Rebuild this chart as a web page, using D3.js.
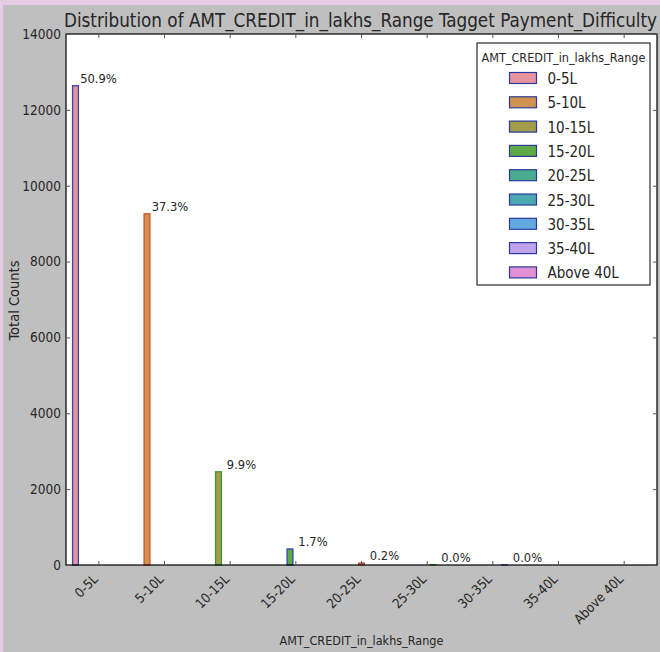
<!DOCTYPE html>
<html>
<head>
<meta charset="utf-8">
<script src="https://cdn.jsdelivr.net/npm/d3@7"></script>
<style>
  html, body { margin: 0; padding: 0; background: #e6cbe6; }
  svg { display: block; }
  text { font-family: "DejaVu Sans Condensed", "DejaVu Sans", sans-serif; font-stretch: condensed; fill: #262626; }
</style>
</head>
<body>
<svg id="chart" width="660" height="652"></svg>
<script>
// Credit-amount buckets (in lakhs) and the number of applicants in each
const categories = ["0-5L", "5-10L", "10-15L", "15-20L", "20-25L", "25-30L", "30-35L", "35-40L", "Above 40L"];
const counts = [12637, 9262, 2458, 422, 52, 8, 2, 0, 0];
const fillColors = ["#e8949f", "#d0924f", "#a39c4a", "#5ca946", "#4aab8e", "#4aa8b2", "#64a8e2", "#c0a2ee", "#e490d6"];
const edgeColors = ["#3347a8", "#d2502c", "#3b9a2f"];
const yTicks = [0, 2000, 4000, 6000, 8000, 10000, 12000, 14000];

const svg = d3.select("#chart");
const W = 660, H = 652;
const margin = { left: 66, right: 3, top: 34, bottom: 87 };
const plotW = W - margin.left - margin.right;
const plotH = H - margin.top - margin.bottom;

// grey figure panel
svg.append("rect").attr("x", 3).attr("y", 5).attr("width", W - 3).attr("height", H - 5).attr("fill", "#bfbfbf");

const g = svg.append("g").attr("transform", `translate(${margin.left},${margin.top})`);

const x = d3.scaleBand().domain(categories).range([0, plotW]).padding(0);
// each bucket holds one slot per hue level (seaborn-style dodge)
const xHue = d3.scaleBand().domain(categories)
  .range([x.bandwidth() * 0.1, x.bandwidth() * 0.9]).padding(0);
const y = d3.scaleLinear().domain([0, 14000]).range([plotH, 0]);

g.append("rect").attr("width", plotW).attr("height", plotH).attr("fill", "#ffffff");

const total = d3.sum(counts);

// bars
g.selectAll("rect.bar").data(categories).enter().append("rect")
  .attr("class", "bar")
  .attr("x", (d) => x(d) + xHue(d))
  .attr("y", (d, i) => y(counts[i]))
  .attr("width", xHue.bandwidth())
  .attr("height", (d, i) => plotH - y(counts[i]))
  .attr("fill", (d, i) => fillColors[i])
  .attr("stroke", (d, i) => edgeColors[i % 3])
  .attr("stroke-width", 1.3)
  .style("display", (d, i) => counts[i] > 0 ? null : "none");

// percentage annotations
g.selectAll("text.pct").data(categories).enter().append("text")
  .attr("class", "pct")
  .filter((d, i) => counts[i] > 0)
  .attr("x", (d) => x(d) + xHue(d) + xHue.bandwidth() / 2 + x.bandwidth() * 0.35)
  .attr("y", (d) => y(counts[categories.indexOf(d)]) - 3)
  .attr("text-anchor", "middle")
  .attr("font-size", 12.8)
  .text((d) => (counts[categories.indexOf(d)] / total * 100).toFixed(1) + "%");

// axes frame
g.append("rect").attr("width", plotW).attr("height", plotH)
  .attr("fill", "none").attr("stroke", "#000").attr("stroke-width", 1.2);

// x ticks (inside, bottom and top)
const xAxis = d3.axisBottom(x).tickSizeInner(-4).tickSizeOuter(0).tickPadding(0);
const xg = g.append("g").attr("transform", `translate(0,${plotH})`).call(xAxis);
xg.select(".domain").remove();
xg.selectAll(".tick line").attr("stroke", "#555");
xg.selectAll(".tick text")
  .attr("font-size", 13.3)
  .attr("text-anchor", "end")
  .attr("dy", 0)
  .attr("transform", "translate(0,15) rotate(-45)");

const xTop = d3.axisTop(x).tickSizeInner(-4).tickSizeOuter(0).tickFormat("");
const xtg = g.append("g").call(xTop);
xtg.select(".domain").remove();
xtg.selectAll(".tick line").attr("stroke", "#555");

// y ticks (inside, left and right)
const yAxis = d3.axisLeft(y).tickValues(yTicks).tickFormat(d3.format("d"))
  .tickSizeInner(-4).tickSizeOuter(0).tickPadding(5);
const yg = g.append("g").call(yAxis);
yg.select(".domain").remove();
yg.selectAll(".tick line").attr("stroke", "#555");
yg.selectAll(".tick text").attr("font-size", 13.5);

const yRight = d3.axisRight(y).tickValues(yTicks).tickSizeInner(-4).tickSizeOuter(0).tickFormat("");
const yrg = g.append("g").attr("transform", `translate(${plotW},0)`).call(yRight);
yrg.select(".domain").remove();
yrg.selectAll(".tick line").attr("stroke", "#555");

// axis titles
svg.append("text").attr("x", margin.left + plotW / 2).attr("y", 645)
  .attr("text-anchor", "middle").attr("font-size", 12.5)
  .text("AMT_CREDIT_in_lakhs_Range");
svg.append("text")
  .attr("transform", `translate(19,${margin.top + plotH / 2 + 1}) rotate(-90)`)
  .attr("text-anchor", "middle").attr("font-size", 14.5)
  .text("Total Counts");

// chart title
svg.append("text").attr("x", margin.left + plotW / 2 - 1).attr("y", 27)
  .attr("text-anchor", "middle").attr("font-size", 18.7)
  .text("Distribution of AMT_CREDIT_in_lakhs_Range Tagget Payment_Difficulty");

// legend
const lg = svg.append("g").attr("transform", "translate(477,43)");
lg.append("rect").attr("width", 173).attr("height", 242)
  .attr("fill", "#ffffff").attr("stroke", "#000").attr("stroke-width", 1);
lg.append("text").attr("x", 86.5).attr("y", 19).attr("text-anchor", "middle")
  .attr("font-size", 12.5).text("AMT_CREDIT_in_lakhs_Range");
const items = lg.selectAll("g.item").data(categories).enter().append("g")
  .attr("class", "item")
  .attr("transform", (d, i) => `translate(0,${35 + i * 24.3})`);
items.append("rect").attr("x", 32.5).attr("y", -5.5).attr("width", 27).attr("height", 11)
  .attr("fill", (d, i) => fillColors[i]).attr("stroke", "#2b3a9a").attr("stroke-width", 1.2);
items.append("text").attr("x", 70.5).attr("y", 6).attr("font-size", 15).text((d) => d);
</script>
</body>
</html>
